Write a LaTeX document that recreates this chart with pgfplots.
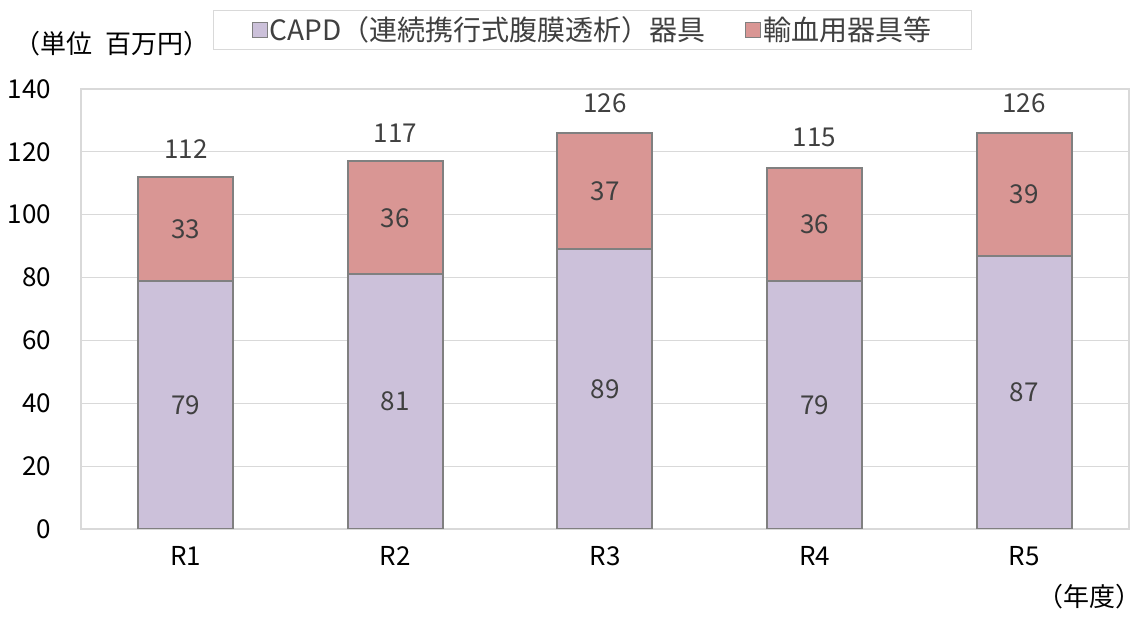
\documentclass[border=0pt]{standalone}
\usepackage{pgfplots}
\pgfplotsset{compat=1.18}
\usepackage{fontspec}
\setmainfont{Noto Sans CJK JP}
\definecolor{capd}{HTML}{CCC1DA}
\definecolor{blood}{HTML}{D99694}
\definecolor{gridc}{HTML}{D9D9D9}
\definecolor{edgec}{HTML}{808080}
\definecolor{lab}{HTML}{404040}
\begin{document}
\begin{tikzpicture}
\useasboundingbox (-40.5pt,-46pt) rectangle (530pt,264.5pt);
\begin{axis}[
 at={(0,0)}, anchor=south west,
 scale only axis, width=524pt, height=220pt,
 ybar stacked, bar width=47.5pt,
 xmin=-0.5, xmax=4.5, ymin=0, ymax=140,
 xtick={0,1,2,3,4}, xticklabels={R1,R2,R3,R4,R5},
 ytick={0,20,40,60,80,100,120,140},
 ymajorgrids, grid style={gridc, line width=0.6pt},
 axis line style={gridc, line width=0.6pt},
 major tick length=0pt,
 tick label style={font=\fontsize{13pt}{15pt}\selectfont, black},
 /pgf/number format/assume math mode=true,
 yticklabel style={xshift=-11.5pt},
 xticklabel style={yshift=-5pt},
 legend style={at={(0.126,1.1795)}, anchor=north west, draw=gridc, line width=0.6pt,
   legend columns=2, font=\fontsize{14pt}{16pt}\selectfont, text=lab,
   inner xsep=19pt, inner ysep=1pt,
   nodes={inner xsep=1pt, inner ysep=2pt},
   /tikz/every even column/.append style={column sep=19pt}},
 legend image code/.code={\draw[#1, draw=edgec, line width=0.4pt] (0pt,-3.75pt) rectangle (7.5pt,3.75pt);},
]
\addplot[fill=capd, draw=edgec, line width=1pt] coordinates {(0,79) (1,81) (2,89) (3,79) (4,87)};
\addplot[fill=blood, draw=edgec, line width=1pt] coordinates {(0,33) (1,36) (2,37) (3,36) (4,39)};
\legend{CAPD（連続携行式腹膜透析）器具, 輸血用器具等}
\end{axis}
\begin{axis}[
 at={(0,0)}, anchor=south west,
 scale only axis, width=524pt, height=220pt,
 xmin=-0.5, xmax=4.5, ymin=0, ymax=140, hide axis]
\addplot[draw=none, nodes near coords, point meta=explicit symbolic,
  nodes near coords style={anchor=center, inner sep=0pt, font=\fontsize{13pt}{15pt}\selectfont, text=lab}]
 table[meta=l] {
x y l
0 39.5 79
1 40.5 81
2 44.5 89
3 39.5 79
4 43.5 87
0 95.5 33
1 99 36
2 107.5 37
3 97 36
4 106.5 39
0 121 112
1 126 117
2 135.5 126
3 124.5 115
4 135.5 126
};
\end{axis}
\node[anchor=west, font=\fontsize{13pt}{15pt}\selectfont] at (-37pt,242.5pt) {（単位\hspace{0.5em}百万円）};
\node[font=\fontsize{13pt}{15pt}\selectfont] at (504pt,-34pt) {（年度）};
\end{tikzpicture}
\end{document}
